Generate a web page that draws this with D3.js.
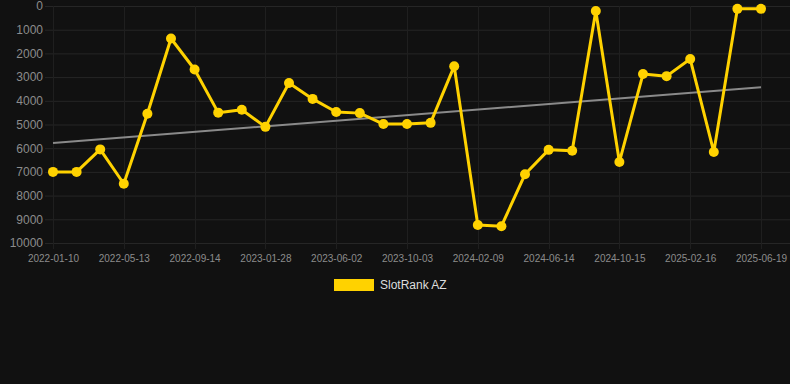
<!DOCTYPE html>
<html>
<head>
<meta charset="utf-8">
<script src="https://cdn.jsdelivr.net/npm/d3@7"></script>
<style>
  html, body { margin: 0; padding: 0; background: #111111; }
  svg { display: block; font-family: "Liberation Sans", Arial, sans-serif; }
</style>
</head>
<body>
<div class="chart"></div>
<script>
// dates on the x axis (every 3rd one is labelled)
let dates = [
    "2022-01-10", "2022-02-20", "2022-04-01", "2022-05-13", "2022-06-23", "2022-08-03",
    "2022-09-14", "2022-10-28", "2022-12-12", "2023-01-28", "2023-03-10", "2023-04-21",
    "2023-06-02", "2023-07-12", "2023-08-23", "2023-10-03", "2023-11-14", "2023-12-27",
    "2024-02-09", "2024-03-21", "2024-05-03", "2024-06-14", "2024-07-25", "2024-09-04",
    "2024-10-15", "2024-11-25", "2025-01-06", "2025-02-16", "2025-03-29", "2025-05-09",
    "2025-06-19"
];
// rank values, SlotRank AZ
let ranks = [
    7000, 7000, 6050, 7500, 4550, 1370, 2680, 4500, 4380, 5100, 3250, 3920,
    4470, 4520, 4980, 4980, 4930, 2540, 9240, 9290, 7100, 6070, 6110, 210,
    6580, 2870, 2960, 2240, 6160, 120, 120
];
let yTicks = [0, 1000, 2000, 3000, 4000, 5000, 6000, 7000, 8000, 9000, 10000];
let seriesName = "SlotRank AZ";

let w = 790;
let h = 384;
let plotLeft = 45;
let plotTop = 6;
let plotBottom = 243;
let gold = "#ffd200";

let xScale = d3.scalePoint()
    .domain(dates)
    .range([53, 761]);

let yScale = d3.scaleLinear()
    .domain([0, 10000])
    .range([plotTop, plotBottom]);

const svg = d3.select(".chart")
    .append("svg")
    .attr("width", w)
    .attr("height", h)
    .style("background-color", "#111111");

let labelled = dates.filter((d, i) => i % 3 == 0);

// grid
svg.append("g")
    .selectAll("line")
    .data(yTicks)
    .enter()
    .append("line")
    .attr("x1", plotLeft)
    .attr("x2", w)
    .attr("y1", d => yScale(d) + 0.5)
    .attr("y2", d => yScale(d) + 0.5)
    .attr("stroke", "#262626")
    .attr("stroke-width", 1);

svg.append("g")
    .selectAll("line")
    .data(labelled)
    .enter()
    .append("line")
    .attr("x1", d => Math.round(xScale(d)) + 0.5)
    .attr("x2", d => Math.round(xScale(d)) + 0.5)
    .attr("y1", plotTop)
    .attr("y2", plotBottom + 6)
    .attr("stroke", "#1f1f1f")
    .attr("stroke-width", 1);

// axes
const yAxis = d3.axisLeft(yScale).tickValues(yTicks).tickFormat(d3.format("d")).tickSize(0).tickPadding(2);
const xAxis = d3.axisBottom(xScale).tickValues(labelled).tickSize(0).tickPadding(12);

svg.append("g")
    .attr("id", "y-axis")
    .attr("transform", "translate(" + plotLeft + ", 0)")
    .call(yAxis)
    .call(g => g.select(".domain").remove())
    .selectAll("text")
    .attr("fill", "#8c8c8c")
    .style("font-size", "12px");

svg.append("g")
    .attr("id", "x-axis")
    .attr("transform", "translate(0, " + plotBottom + ")")
    .call(xAxis)
    .call(g => g.select(".domain").remove())
    .selectAll("text")
    .attr("fill", "#8c8c8c")
    .style("font-size", "10px");

// trend line (least squares on index)
let n = ranks.length;
let mx = d3.mean(ranks, (d, i) => i);
let my = d3.mean(ranks);
let sxy = d3.sum(ranks, (d, i) => (i - mx) * (d - my));
let sxx = d3.sum(ranks, (d, i) => (i - mx) * (i - mx));
let slope = sxy / sxx;
let icpt = my - slope * mx;

svg.append("line")
    .attr("x1", xScale(dates[0]))
    .attr("y1", yScale(icpt))
    .attr("x2", xScale(dates[n - 1]))
    .attr("y2", yScale(icpt + slope * (n - 1)))
    .attr("stroke", "#8a8a8a")
    .attr("stroke-width", 2);

// series
let line = d3.line()
    .x((d, i) => xScale(dates[i]))
    .y(d => yScale(d));

svg.append("path")
    .datum(ranks)
    .attr("d", line)
    .attr("fill", "none")
    .attr("stroke", gold)
    .attr("stroke-width", 3)
    .attr("stroke-linejoin", "round");

svg.selectAll(".dot")
    .data(ranks)
    .enter()
    .append("circle")
    .attr("class", "dot")
    .attr("cx", (d, i) => xScale(dates[i]))
    .attr("cy", d => yScale(d))
    .attr("r", 5)
    .attr("fill", gold);

// legend
svg.append("rect")
    .attr("x", 334)
    .attr("y", 279)
    .attr("width", 40)
    .attr("height", 12)
    .attr("fill", gold);

svg.append("text")
    .attr("x", 380)
    .attr("y", 289)
    .attr("fill", "#dddddd")
    .style("font-size", "12px")
    .text(seriesName);
</script>
</body>
</html>
